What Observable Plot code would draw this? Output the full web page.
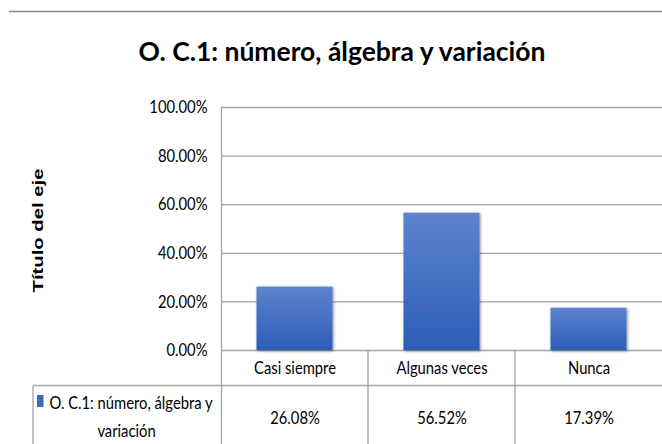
<!DOCTYPE html>
<html>
<head>
<meta charset="utf-8">
<script src="https://cdn.jsdelivr.net/npm/d3@7"></script>
<script src="https://cdn.jsdelivr.net/npm/@observablehq/plot@0.6"></script>
<style>
  html, body { margin: 0; padding: 0; background: #fff; }
  #chart { position: relative; width: 662px; height: 444px; overflow: hidden; background: #fff; }
</style>
</head>
<body>
<div id="chart"></div>
<script>
// ---- data ----
const categories = ["Casi siempre", "Algunas veces", "Nunca"];
const values = [0.2608, 0.5652, 0.1739];
const valueLabels = ["26.08%", "56.52%", "17.39%"];
const yTicks = [0, 0.2, 0.4, 0.6, 0.8, 1.0];
const chartTitle = "O. C.1: número, álgebra y variación";
const seriesLines = ["O. C.1: número, álgebra y", "variación"];
const yTitle = "Título del eje";

const data = categories.map((c, i) => ({category: c, value: values[i], label: valueLabels[i]}));

const font = "Lato, 'Open Sans', 'Liberation Sans', sans-serif";
const gridColor = "#a3a3a3";
const barColor = "#3d69c4";
const bodySize = 18;

const defs = () => {
  const d = d3.create("svg:defs");
  const g = d.append("linearGradient").attr("id", "barGrad")
    .attr("x1", 0).attr("y1", 0).attr("x2", 0).attr("y2", 1);
  g.append("stop").attr("offset", "0%").attr("stop-color", "#5e83cc");
  g.append("stop").attr("offset", "100%").attr("stop-color", "#2c5db8");
  const f = d.append("filter").attr("id", "barShadow")
    .attr("x", "-10%").attr("y", "-10%").attr("width", "130%").attr("height", "130%");
  f.append("feDropShadow").attr("dx", 1).attr("dy", 1).attr("stdDeviation", 1.6)
    .attr("flood-color", "#000").attr("flood-opacity", 0.45);
  return d.node();
};

const chart = Plot.plot({
  width: 662,
  height: 444,
  marginLeft: 221,
  marginRight: 0,
  marginTop: 107,
  marginBottom: 94,
  style: {fontFamily: font, fontSize: bodySize + "px", color: "#000", background: "#fff", overflow: "visible"},
  x: {domain: categories, padding: 0, axis: null},
  y: {domain: [0, 1], axis: null},
  marks: [
    defs,
    Plot.ruleY(yTicks, {stroke: gridColor, strokeWidth: 1.3}),
    Plot.barY(data, {x: "category", y: "value", fill: "url(#barGrad)", insetLeft: 35.5, insetRight: 35.5}),
    Plot.axisY(yTicks, {tickSize: 0, tickPadding: 14, tickFormat: d => (d * 100).toFixed(2) + "%",
      fontSize: bodySize, fill: "#000", label: null}),
    // data table: category row & value row
    Plot.text(data, {x: "category", text: "category", frameAnchor: "bottom", lineAnchor: "middle", dy: 18,
      fontSize: bodySize, fill: "#000"}),
    Plot.text(data, {x: "category", text: "label", frameAnchor: "bottom", lineAnchor: "middle", dy: 68,
      fontSize: bodySize, fill: "#000"}),
    // legend key cell
    Plot.text([seriesLines[0]], {frameAnchor: "bottom-left", dx: -90.5, dy: 53, textAnchor: "middle", lineAnchor: "middle",
      fontSize: bodySize, fill: "#000"}),
    Plot.text([seriesLines[1]], {frameAnchor: "bottom-left", dx: -95, dy: 81, textAnchor: "middle", lineAnchor: "middle",
      fontSize: bodySize, fill: "#000"}),
    // title & axis title
    Plot.text([chartTitle], {frameAnchor: "top", dx: -100, dy: -54.5, lineAnchor: "middle", textAnchor: "middle",
      fontSize: 26.5, fontWeight: "bold", fill: "#000"}),
    Plot.text([yTitle], {frameAnchor: "left", dx: -183.5, dy: 1.5, rotate: -90, textAnchor: "middle", lineAnchor: "middle",
      fontSize: 15, fontWeight: "bold", fontFamily: "'Liberation Sans', Arial, sans-serif", fill: "#000"})
  ]
});

document.getElementById("chart").appendChild(chart);

const svg = d3.select(chart);
// bar shadow
svg.selectAll("rect").filter(function() {
  return this.getAttribute("fill") === "url(#barGrad)" ||
    (this.parentNode && this.parentNode.getAttribute && this.parentNode.getAttribute("fill") === "url(#barGrad)");
}).attr("filter", "url(#barShadow)");

// horizontally compress text to imitate the narrow, tall lettering of the original
const allText = svg.selectAll("text").nodes();
const kind = t => t.textContent === chartTitle ? "title" : t.textContent === yTitle ? "ytitle" : "body";
const lenOf = str => { const n = allText.find(t => t.textContent === str); return n ? n.getComputedTextLength() : 0; };
const bodyLen = lenOf(categories[0]);
const titleLen = lenOf(chartTitle);
const yLen = lenOf(yTitle);
const factors = {
  body: bodyLen ? 82 / bodyLen : 0.82,
  title: titleLen ? 407 / titleLen : 1,
  ytitle: yLen ? 124 / yLen : 1.3
};
allText.forEach(t => {
  const f = factors[kind(t)];
  const tr = t.getAttribute("transform");
  if (tr) {
    t.setAttribute("transform", tr + ` scale(${f},1)`);
  } else {
    const x = +t.getAttribute("x") || 0, y = +t.getAttribute("y") || 0;
    t.setAttribute("transform", `translate(${x},${y}) scale(${f},1) translate(${-x},${-y})`);
  }
});

// table borders, axis line and top rule, positioned from the Plot scales
const xs = chart.scale("x");
const ys = chart.scale("y");
const x0 = xs.range[0], x1 = xs.range[1];
const y0 = ys.apply(0), y1 = ys.apply(1);
const tableBottom = 444;
const rowSplit = y0 + 35.5;
const lines = svg.append("g").attr("stroke", gridColor).attr("stroke-width", 1.3).attr("fill", "none");
lines.append("line").attr("x1", x0 + 0.5).attr("x2", x0 + 0.5).attr("y1", y1).attr("y2", tableBottom);
categories.forEach((c, i) => {
  if (i > 0) {
    const bx = xs.apply(c);
    lines.append("line").attr("x1", bx).attr("x2", bx).attr("y1", y0).attr("y2", tableBottom);
  }
});
lines.append("line").attr("x1", 33).attr("x2", x1).attr("y1", rowSplit).attr("y2", rowSplit);
lines.append("line").attr("x1", 33).attr("x2", 33).attr("y1", rowSplit).attr("y2", tableBottom);
svg.append("line").attr("x1", 9).attr("x2", 662).attr("y1", 11.5).attr("y2", 11.5)
  .attr("stroke", "#8a8a8a").attr("stroke-width", 1.5);
// legend swatch
svg.append("rect").attr("x", 37).attr("y", y0 + 45).attr("width", 6.5).attr("height", 12).attr("fill", barColor);
</script>
</body>
</html>
